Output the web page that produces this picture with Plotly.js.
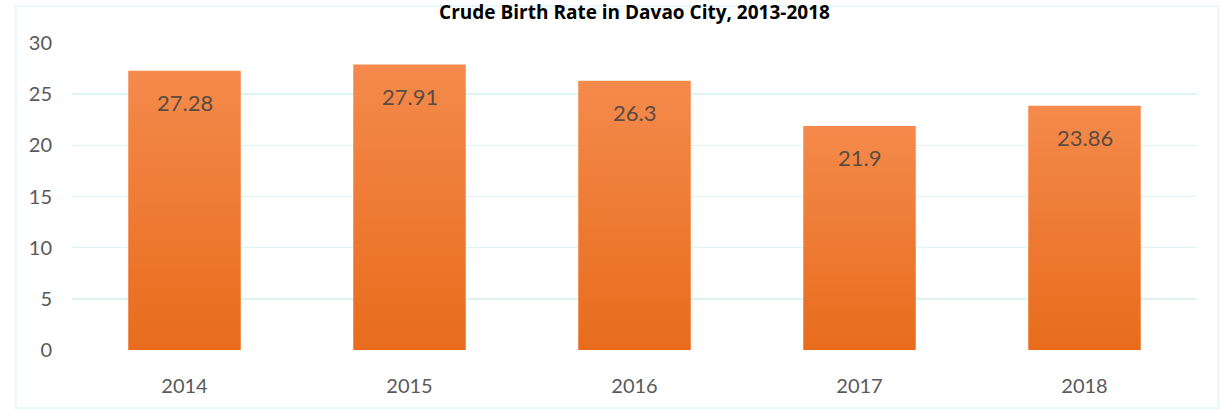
<!DOCTYPE html>
<html>
<head>
<meta charset="utf-8">
<script src="https://cdn.plot.ly/plotly-3.0.1.min.js"></script>
<style>
html,body{margin:0;padding:0;background:#fff;}
#chart{width:1220px;height:415px;}
</style>
</head>
<body>
<div id="chart"></div>
<script>
const years = ["2014", "2015", "2016", "2017", "2018"];
const birthRates = [27.28, 27.91, 26.3, 21.9, 23.86];
const rateLabels = ["27.28", "27.91", "26.3", "21.9", "23.86"];
const yTicks = [0, 5, 10, 15, 20, 25, 30];

const trace = {
  type: "bar",
  x: years,
  y: birthRates,
  marker: {color: "#EF7B33", line: {width: 0}},
  hoverinfo: "skip"
};

// on a category axis, annotation x is the category's serial number
const annotations = years.map((yr, i) => ({
  x: i, y: birthRates[i], xref: "x", yref: "y",
  text: rateLabels[i], showarrow: false,
  yanchor: "middle", yshift: -32,
  font: {family: "Lato, 'Open Sans', sans-serif", size: 22, color: "#5b4c42"}
}));

const layout = {
  width: 1220, height: 415,
  margin: {l: 72, r: 23, t: 43, b: 65},
  paper_bgcolor: "#ffffff",
  plot_bgcolor: "#ffffff",
  bargap: 0.5,
  showlegend: false,
  title: {
    text: "<b>Crude Birth Rate in Davao City, 2013-2018</b>",
    font: {family: "'Open Sans', 'Noto Sans', sans-serif", size: 19, color: "#000000"},
    x: 0.5, xanchor: "center", xref: "paper",
    y: 0.971, yanchor: "middle", yref: "container"
  },
  xaxis: {
    type: "category",
    range: [-0.5, 4.5],
    showgrid: false, zeroline: false, showline: false,
    ticks: "",
    tickfont: {family: "Lato, 'Open Sans', sans-serif", size: 20, color: "#595959"},
    ticklabelstandoff: 22
  },
  yaxis: {
    range: [0, 30],
    tickvals: yTicks,
    showgrid: true, gridcolor: "#dcf4f4", gridwidth: 1.5,
    zeroline: false, showline: false, ticks: "",
    tickfont: {family: "Lato, 'Open Sans', sans-serif", size: 20, color: "#595959"},
    ticklabelstandoff: 19
  },
  annotations: annotations,
  shapes: [
    {type: "rect", xref: "paper", yref: "paper", x0: -0.05, x1: 1.019, y0: -0.19, y1: 1.12,
     line: {color: "#e6f8f8", width: 2}, layer: "below"}
  ]
};

Plotly.newPlot("chart", [trace], layout, {displayModeBar: false, staticPlot: true}).then(gd => {
  const svg = gd.querySelector("svg.main-svg");
  const ns = "http://www.w3.org/2000/svg";
  let defs = svg.querySelector("defs");
  if (!defs) { defs = document.createElementNS(ns, "defs"); svg.insertBefore(defs, svg.firstChild); }
  const grad = document.createElementNS(ns, "linearGradient");
  grad.setAttribute("id", "barGrad");
  grad.setAttribute("x1", "0"); grad.setAttribute("y1", "0");
  grad.setAttribute("x2", "0"); grad.setAttribute("y2", "1");
  [["0", "#F48A4C"], ["1", "#E86C1C"]].forEach(([o, c]) => {
    const s = document.createElementNS(ns, "stop");
    s.setAttribute("offset", o); s.setAttribute("stop-color", c);
    grad.appendChild(s);
  });
  defs.appendChild(grad);
  gd.querySelectorAll(".trace.bars .point path").forEach(p => {
    p.style.fill = "url(#barGrad)";
  });
});
</script>
</body>
</html>
